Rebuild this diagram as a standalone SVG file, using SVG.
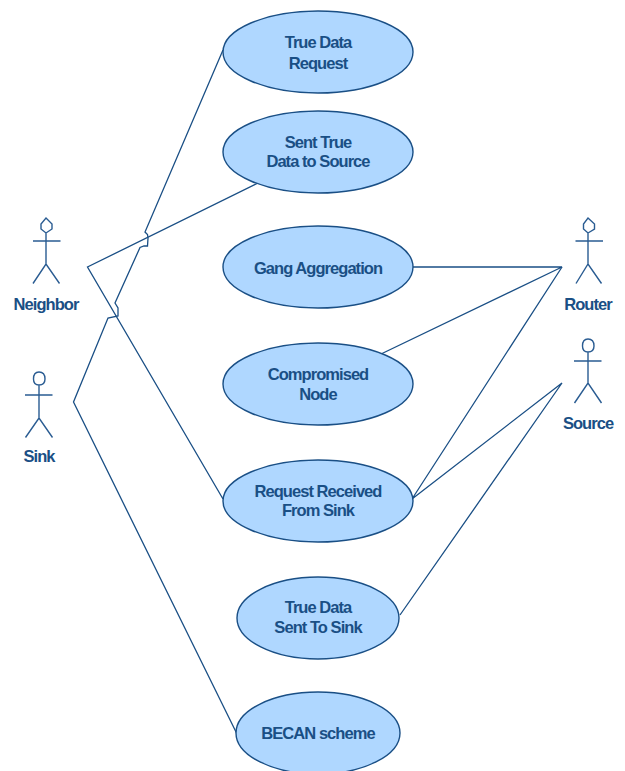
<svg xmlns="http://www.w3.org/2000/svg" width="625" height="771" viewBox="0 0 625 771">
<style>
.u{fill:#afd7ff;stroke:#1a4f85;stroke-width:1.4}
.c{fill:none;stroke:#1a4f85;stroke-width:1.3;stroke-linejoin:miter}
.a{fill:none;stroke:#2a5c92;stroke-width:1.4}
text{font-family:"Liberation Sans",Arial,sans-serif;font-size:16.500px;font-weight:700;fill:#1a4f85;text-anchor:middle;letter-spacing:-0.950px}
</style>
<rect width="625" height="771" fill="#fff"/>
<g id="connectors">
<path class="c" d="M223 50L145 232L147.500 234.500L148 238L147.500 246L144 246L140 247.500L115 303L118 308L118 316L108 318L73.500 402L237 734"/>
<path class="c" d="M258 183L87.500 267L223 499"/>
<path class="c" d="M413 267H562L381 354"/>
<path class="c" d="M562 267L412 499L562 383L400 615"/>
</g>
<g id="uc1"><ellipse class="u" cx="318" cy="52" rx="95" ry="41"/><text x="318" y="48">True Data</text><text x="318" y="69">Request</text></g>
<g id="uc2"><ellipse class="u" cx="318" cy="152" rx="95" ry="41"/><text x="318" y="148">Sent True</text><text x="318" y="167">Data to Source</text></g>
<g id="uc3"><ellipse class="u" cx="318" cy="267" rx="95" ry="41"/><text x="318" y="274">Gang Aggregation</text></g>
<g id="uc4"><ellipse class="u" cx="318" cy="384" rx="95" ry="41"/><text x="318" y="380">Compromised</text><text x="318" y="400">Node</text></g>
<g id="uc5"><ellipse class="u" cx="318" cy="501" rx="95" ry="41"/><text x="318" y="497">Request Received</text><text x="318" y="516">From Sink</text></g>
<g id="uc6"><ellipse class="u" cx="318" cy="618" rx="81" ry="41"/><text x="318" y="613">True Data</text><text x="318" y="633">Sent To Sink</text></g>
<g id="uc7"><ellipse class="u" cx="318" cy="733" rx="82" ry="41"/><text x="318" y="739">BECAN scheme</text></g>
<g id="neighbor"><path class="a" d="M46 218L52 224V229L46 233L41 229V224ZM46 233V264M33 241H60.500M33 283.500L46 264L59.500 283.500"/><text x="46" y="310">Neighbor</text></g>
<g id="sink"><path class="a" d="M39 372C44 372 45 375 45 379C45 383 43 385 39 385C35 385 33.500 383 33.500 379C33.500 375 35 372 39 372ZM39 385V418M25 395H52.500M25.500 437.500L39 418L52.500 437.500"/><text x="39" y="462">Sink</text></g>
<g id="router"><path class="a" d="M588 218L594.500 224V229L588 233L583.500 229V224ZM588 233V264M575.500 241H603M576 283.500L588 264L601.500 283.500"/><text x="588" y="310">Router</text></g>
<g id="source"><path class="a" d="M588 339C592 339 594 341 594 346C594 350 592 352 588 352C584 352 582.500 350 582.500 346C582.500 341 584 339 588 339ZM588 352V383M574 361H601.500M574.500 403L588 383L601.500 403"/><text x="588" y="429">Source</text></g>
</svg>
